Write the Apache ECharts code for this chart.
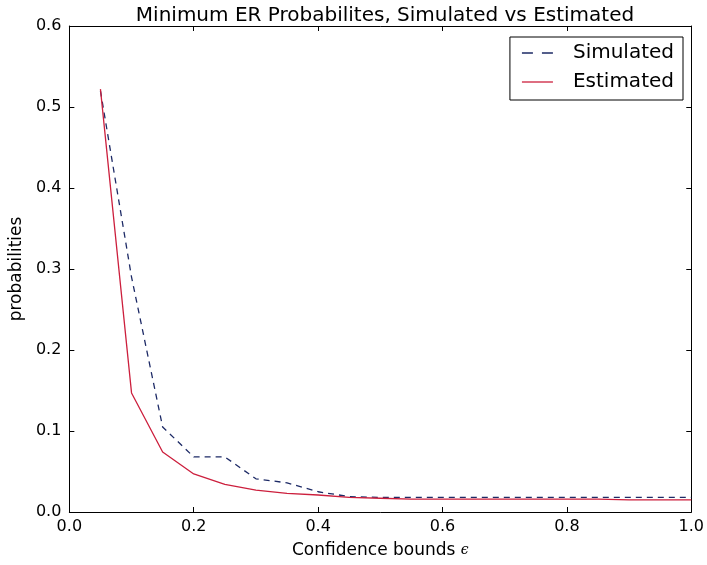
<!DOCTYPE html>
<html>
<head>
<meta charset="utf-8">
<script src="https://cdn.jsdelivr.net/npm/echarts@6/dist/echarts.min.js"></script>
<style>
  html, body { margin: 0; padding: 0; background: #fff; }
  #chart { width: 707px; height: 565px; }
</style>
</head>
<body>
<div id="chart"></div>
<script>
  // confidence bounds (x) and the two probability curves
  var epsilon = [0.05, 0.10, 0.15, 0.20, 0.25, 0.30, 0.35, 0.40, 0.45, 0.50,
                 0.55, 0.60, 0.65, 0.70, 0.75, 0.80, 0.85, 0.90, 0.95, 1.00];
  var simulated = [0.520, 0.290, 0.105, 0.068, 0.068, 0.041, 0.036, 0.025, 0.019, 0.018,
                   0.018, 0.018, 0.018, 0.018, 0.018, 0.018, 0.018, 0.018, 0.018, 0.018];
  var estimated = [0.522, 0.147, 0.074, 0.047, 0.034, 0.027, 0.023, 0.021, 0.018, 0.017,
                   0.016, 0.016, 0.016, 0.016, 0.016, 0.016, 0.016, 0.015, 0.015, 0.015];
  var seriesNames = ['Simulated', 'Estimated'];

  var font = 'DejaVu Sans';
  var chart = echarts.init(document.getElementById('chart'));

  function pairs(xs, ys) {
    return xs.map(function (x, i) { return [x, ys[i]]; });
  }

  // a frame axis: black line, inward ticks, labels optional
  function frameAxis(extra) {
    var base = {
      type: 'value',
      axisLine: { show: true, onZero: false, lineStyle: { color: '#000', width: 1 } },
      axisTick: { show: true, inside: true, length: 5, lineStyle: { color: '#000' } },
      splitLine: { show: false },
      axisLabel: { show: false }
    };
    return Object.assign(base, extra);
  }

  chart.setOption({
    backgroundColor: '#fff',
    animation: false,
    title: {
      text: 'Minimum ER Probabilites, Simulated vs Estimated',
      left: 380,
      textAlign: 'center',
      top: 1,
      textStyle: { fontFamily: font, fontSize: 20, fontWeight: 'normal', color: '#000' }
    },
    legend: {
      right: 24,
      top: 37,
      orient: 'vertical',
      itemWidth: 31,
      itemHeight: 2,
      itemGap: 9,
      padding: [6, 9, 8, 12],
      borderColor: '#000',
      borderWidth: 1,
      borderRadius: 0,
      backgroundColor: '#fff',
      textStyle: { fontFamily: font, fontSize: 20, color: '#000', padding: [0, 0, 0, 15] },
      data: [
        // two short dashes vs one solid stroke, like the plotted lines
        { name: seriesNames[0], icon: 'path://M0,0 h11 v1.3 h-11 z M20,0 h11 v1.3 h-11 z' },
        { name: seriesNames[1], icon: 'path://M0,0 h31 v1.3 h-31 z' }
      ]
    },
    grid: { left: 67, right: 15, top: 26, bottom: 53 },
    xAxis: [
      frameAxis({
        min: 0, max: 1, interval: 0.2,
        position: 'bottom',
        axisLabel: {
          show: true, margin: 7, fontFamily: font, fontSize: 16, color: '#000',
          formatter: function (v) { return v.toFixed(1); }
        },
        name: 'Confidence bounds {e|ϵ}',
        nameLocation: 'middle',
        nameGap: 30,
        nameTextStyle: {
          fontFamily: font, fontSize: 17, color: '#000',
          rich: { e: { fontFamily: 'DejaVu Serif', fontStyle: 'italic', fontSize: 14, color: '#000' } }
        }
      }),
      frameAxis({ min: 0, max: 1, interval: 0.2, position: 'top' })
    ],
    yAxis: [
      frameAxis({
        min: 0, max: 0.6, interval: 0.1,
        position: 'left',
        axisLabel: {
          show: true, margin: 8, fontFamily: font, fontSize: 16, color: '#000',
          formatter: function (v) { return v.toFixed(1); }
        },
        name: 'probabilities',
        nameLocation: 'middle',
        nameGap: 38,
        nameRotate: 90,
        nameTextStyle: { fontFamily: font, fontSize: 17, color: '#000' }
      }),
      frameAxis({ min: 0, max: 0.6, interval: 0.1, position: 'right' })
    ],
    series: [
      {
        name: seriesNames[0],
        type: 'line',
        data: pairs(epsilon, simulated),
        showSymbol: false,
        symbol: 'none',
        color: '#1d2a66',
        lineStyle: { color: '#1d2a66', width: 1.3, type: [6, 5] }
      },
      {
        name: seriesNames[1],
        type: 'line',
        data: pairs(epsilon, estimated),
        showSymbol: false,
        symbol: 'none',
        color: '#cc1f3d',
        lineStyle: { color: '#cc1f3d', width: 1.3 }
      }
    ]
  });
</script>
</body>
</html>
